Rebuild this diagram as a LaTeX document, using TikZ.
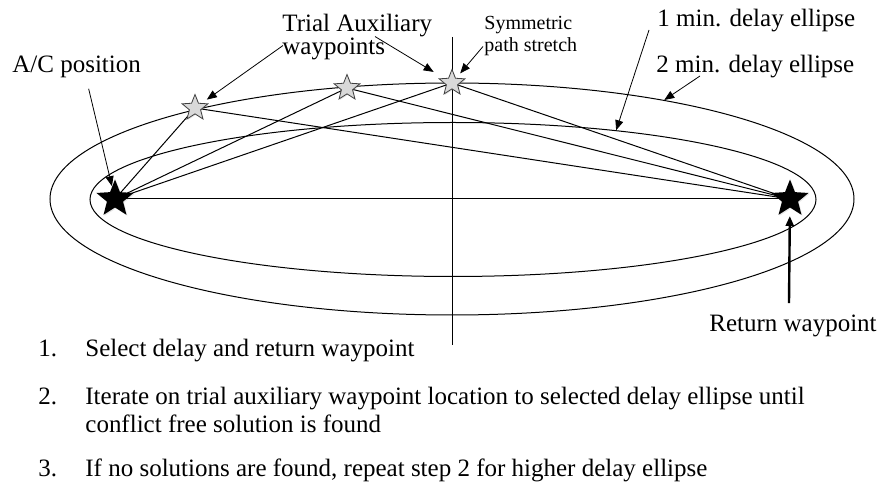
\documentclass[tikz,border=0pt]{standalone}
\usepackage{fontspec}
\setmainfont{Liberation Serif}
\usetikzlibrary{arrows.meta,shapes.geometric,calc,backgrounds,shadows}

\begin{document}
\begin{tikzpicture}[x=0.5pt,y=-0.5pt,
    label text/.style={font=\fontsize{12.5}{11.5}\selectfont, inner sep=0pt, align=left},
    small text/.style={font=\fontsize{10}{11}\selectfont, inner sep=0pt, align=left},
    list text/.style={font=\fontsize{12.5}{14}\selectfont, inner sep=0pt, anchor=base west, align=left},
    trial star/.style={star, star points=5, star point ratio=2.3, minimum size=13.5pt, inner sep=0pt,
        draw=black!75, line width=0.4pt, fill=gray!30, drop shadow={opacity=0.2, shadow xshift=0.5pt, shadow yshift=-0.5pt}},
    wp star/.style={star, star points=5, star point ratio=2.3, minimum size=19.5pt, inner sep=0pt,
        fill=black, drop shadow={opacity=0.2, shadow xshift=0.5pt, shadow yshift=-0.5pt}},
    delay/.style={ellipse, draw, inner sep=0pt, line width=0.5pt},
    pointer/.style={-{Triangle[length=5pt,width=4pt]}, line width=0.4pt},
    path line/.style={line width=0.5pt}]
    \useasboundingbox (0,0) rectangle (880,486);

    % delay ellipses and symmetry axis
    \node[delay, minimum width=402pt, minimum height=116pt] (outer) at (452,199) {};
    \node[delay, minimum width=363pt, minimum height=77pt] (inner) at (453,199.5) {};
    \coordinate (axtop) at (452,37);
    \coordinate (axbot) at (452,345);
    \draw[path line] (axtop) -- (axbot);

    % waypoints
    \node[wp star] (ac) at (115,199) {};
    \node[wp star] (ret) at (790,199) {};
    \node[trial star] (aux1) at (195,108) {};
    \node[trial star] (aux2) at (347,88) {};
    \node[trial star] (aux3) at (452,83) {};

    \begin{scope}[on background layer]
        \draw[path line] (ac.center) -- (ret.center);
        \foreach \wp in {aux1,aux2,aux3}
            \draw[path line] (ac.center) -- (\wp.center) -- (ret.center);
    \end{scope}

    % labels
    \node[label text, anchor=base west] (aclabel) at (12,73) {A/C position};
    \node[label text, anchor=base west] (trial) at (282,55) {Trial Auxiliary\\waypoints};
    \node[small text, anchor=base west] (sym) at (484,52) {Symmetric\\path stretch};
    \node[label text, anchor=base west] (onemin) at (657,27) {1 min. delay ellipse};
    \node[label text, anchor=base west] (twomin) at (656,73) {2 min. delay ellipse};
    \node[label text, anchor=base] (retlabel) at (793,332) {Return waypoint};

    \draw[pointer] ($(aclabel.south)+(12,10)$) -- (ac);
    \draw[pointer, shorten >=3pt] ($(trial.west)+(1,8)$) -- (aux1);
    \draw[pointer, shorten >=6pt] ($(trial.west)+(93,-1)$) -- (aux3);
    \draw[pointer, shorten >=3pt] ($(sym.west)+(-1,10)$) -- (aux3);
    \draw[pointer] ($(onemin.base west)+(-8,3)$) -- (inner.23.4);
    \draw[pointer] ($(twomin.base west)+(44,3)$) -- (outer.25.6);
    \draw[pointer, line width=1.2pt, shorten >=4pt] ($(retlabel.north)+(-4,-12)$) -- (ret);

    % steps
    \node[list text] (n1) at (38,357) {1.};
    \node[list text] (s1) at (85,357) {Select delay and return waypoint};
    \node[list text] (n2) at (38,405) {2.};
    \node[list text] (s2) at (85,433) {Iterate on trial auxiliary waypoint location to selected delay ellipse until\\conflict free solution is found};
    \node[list text] (n3) at (38,477) {3.};
    \node[list text] (s3) at (85,477) {If no solutions are found, repeat step 2 for higher delay ellipse};
\end{tikzpicture}
\end{document}
